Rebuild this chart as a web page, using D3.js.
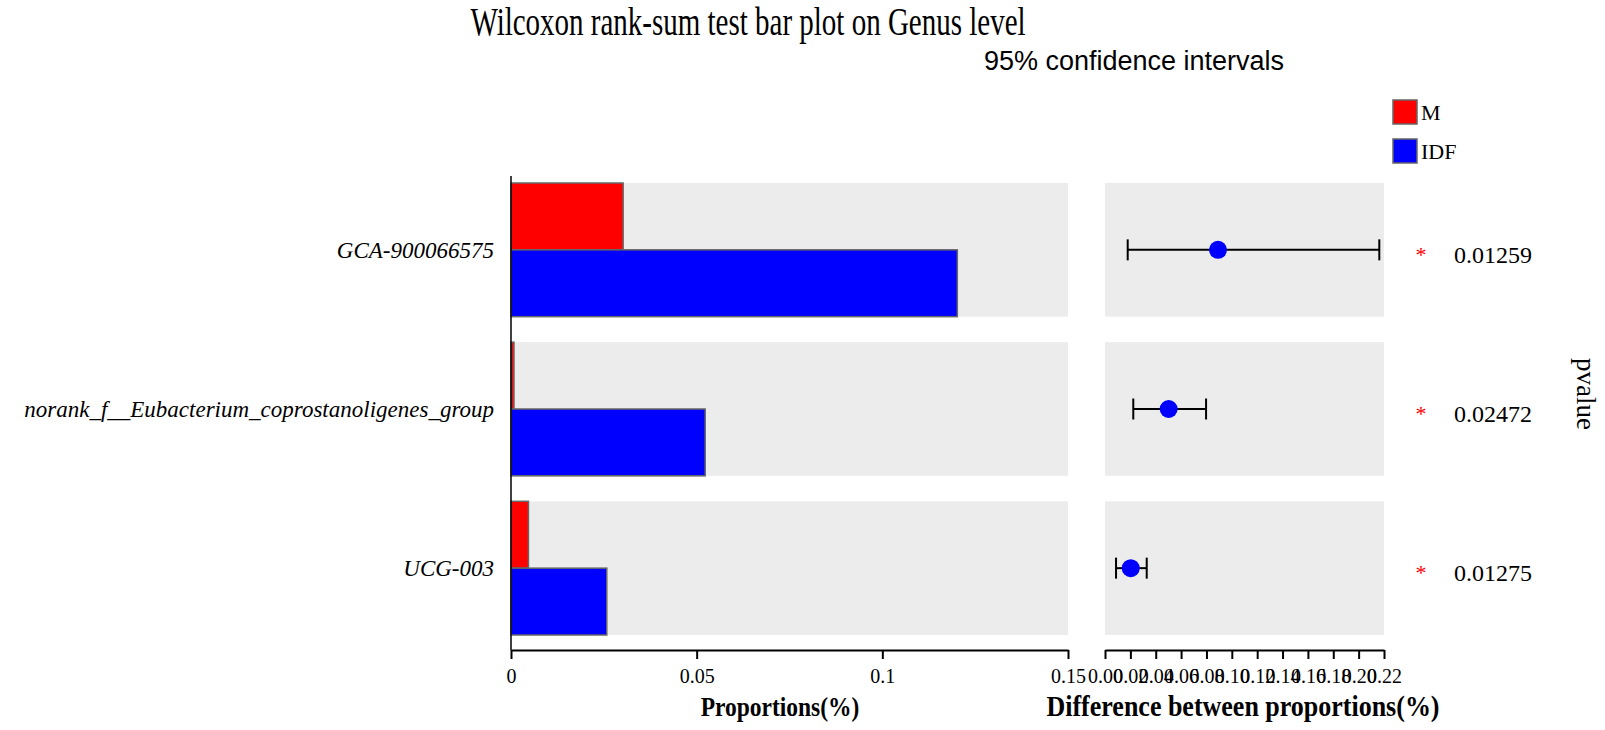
<!DOCTYPE html>
<html>
<head>
<meta charset="utf-8">
<script src="https://cdn.jsdelivr.net/npm/d3@7"></script>
<style>
  body { margin: 0; background: #fff; }
  svg { display: block; }
</style>
</head>
<body>
<div id="chart"></div>
<script>
// data
const genera = ['GCA-900066575', 'norank_f__Eubacterium_coprostanoligenes_group', 'UCG-003'];
const groups = ['M', 'IDF'];
const groupColors = ['#ff0000', '#0000ff'];
const propM = [0.0302, 0.0008, 0.0047];
const propIDF = [0.1202, 0.0523, 0.0258];
const diffMean = [0.0891, 0.0502, 0.0203];
const diffLow = [0.0179, 0.0223, 0.0087];
const diffHigh = [0.2163, 0.0797, 0.0329];
const pvalues = ['0.01259', '0.02472', '0.01275'];
const leftTicks = [0, 0.05, 0.1, 0.15];
const rightTicks = [0, 0.02, 0.04, 0.06, 0.08, 0.1, 0.12, 0.14, 0.16, 0.18, 0.2, 0.22];

const width = 1605, height = 730;
const serif = '"Liberation Serif", "Times New Roman", serif';
const sans = '"Liberation Sans", Arial, sans-serif';

const svg = d3.select('#chart')
  .append('svg')
  .attr('width', width)
  .attr('height', height);

// scales
const xLeft = d3.scaleLinear().domain([0, 0.15]).range([511, 1068]);
const xRight = d3.scaleLinear().domain([0, 0.22]).range([1105, 1384]);
const y = d3.scaleBand().domain(genera).range([183, 635]).paddingInner(0.16).paddingOuter(0);
const ySub = d3.scaleBand().domain(groups).range([0, y.bandwidth()]);

// background bands
svg.append('g').selectAll('rect')
  .data(genera)
  .enter()
  .append('rect')
  .attr('x', xLeft(0))
  .attr('y', d => y(d))
  .attr('width', xLeft(0.15) - xLeft(0))
  .attr('height', y.bandwidth())
  .style('fill', '#ececec');

svg.append('g').selectAll('rect')
  .data(genera)
  .enter()
  .append('rect')
  .attr('x', xRight(0))
  .attr('y', d => y(d))
  .attr('width', xRight(0.22) - xRight(0))
  .attr('height', y.bandwidth())
  .style('fill', '#ececec');

// bars
const barData = [];
genera.forEach((g, i) => {
  barData.push({genus: g, group: 'M', value: propM[i]});
  barData.push({genus: g, group: 'IDF', value: propIDF[i]});
});

svg.append('g').selectAll('rect')
  .data(barData)
  .enter()
  .append('rect')
  .attr('x', xLeft(0))
  .attr('y', d => y(d.genus) + ySub(d.group))
  .attr('width', d => xLeft(d.value) - xLeft(0))
  .attr('height', ySub.bandwidth())
  .style('fill', d => groupColors[groups.indexOf(d.group)])
  .style('stroke', '#666')
  .style('stroke-width', 1.5);

// left axis line
svg.append('line')
  .attr('x1', xLeft(0)).attr('x2', xLeft(0))
  .attr('y1', 176).attr('y2', 650)
  .style('stroke', '#000')
  .style('stroke-width', 1.5);

// bottom axes
const axisLeft = svg.append('g')
  .attr('transform', 'translate(0,650)')
  .call(d3.axisBottom(xLeft).tickValues(leftTicks).tickFormat(d3.format('')).tickSize(9).tickSizeOuter(0));

const axisRight = svg.append('g')
  .attr('transform', 'translate(0,650)')
  .call(d3.axisBottom(xRight).tickValues(rightTicks).tickFormat(d3.format('.2f')).tickSize(9).tickSizeOuter(0));

[axisLeft, axisRight].forEach(ax => {
  ax.select('.domain').style('stroke', '#000').style('stroke-width', 2);
  ax.selectAll('.tick line').style('stroke', '#000').style('stroke-width', 2);
  ax.selectAll('.tick text')
    .attr('y', 19)
    .style('font-family', serif)
    .style('font-size', '20px')
    .style('fill', '#000');
});

// category labels
svg.append('g').selectAll('text')
  .data(genera)
  .enter()
  .append('text')
  .attr('x', 494)
  .attr('y', d => y(d) + y.bandwidth() / 2)
  .attr('dy', '0.35em')
  .attr('text-anchor', 'end')
  .style('font-family', serif)
  .style('font-style', 'italic')
  .style('font-size', '23px')
  .text(d => d);

// error bars
const errData = genera.map((g, i) => ({genus: g, mean: diffMean[i], low: diffLow[i], high: diffHigh[i]}));
const err = svg.append('g').selectAll('g')
  .data(errData)
  .enter()
  .append('g')
  .attr('transform', d => 'translate(0,' + (y(d.genus) + y.bandwidth() / 2) + ')');

err.append('line')
  .attr('x1', d => xRight(d.low))
  .attr('x2', d => xRight(d.high))
  .style('stroke', '#000')
  .style('stroke-width', 2);

err.append('line')
  .attr('x1', d => xRight(d.low)).attr('x2', d => xRight(d.low))
  .attr('y1', -10.5).attr('y2', 10.5)
  .style('stroke', '#000')
  .style('stroke-width', 2);

err.append('line')
  .attr('x1', d => xRight(d.high)).attr('x2', d => xRight(d.high))
  .attr('y1', -10.5).attr('y2', 10.5)
  .style('stroke', '#000')
  .style('stroke-width', 2);

err.append('circle')
  .attr('cx', d => xRight(d.mean))
  .attr('r', 9)
  .style('fill', '#0000ff');

// significance stars and p-values
svg.append('g').selectAll('text')
  .data(genera)
  .enter()
  .append('text')
  .attr('x', 1421)
  .attr('y', d => y(d) + y.bandwidth() / 2 + 12)
  .attr('text-anchor', 'middle')
  .style('font-family', serif)
  .style('font-size', '22px')
  .style('fill', '#ff0000')
  .text('*');

svg.append('g').selectAll('text')
  .data(pvalues)
  .enter()
  .append('text')
  .attr('x', 1454)
  .attr('y', (d, i) => y(genera[i]) + y.bandwidth() / 2 + 13)
  .style('font-family', serif)
  .style('font-size', '24px')
  .text(d => d);

svg.append('text')
  .attr('transform', 'translate(1577,394) rotate(90)')
  .attr('text-anchor', 'middle')
  .style('font-family', serif)
  .style('font-size', '27px')
  .text('pvalue');

// legend
const legend = svg.append('g').selectAll('g')
  .data(groups)
  .enter()
  .append('g')
  .attr('transform', (d, i) => 'translate(1393,' + (100 + i * 39) + ')');

legend.append('rect')
  .attr('width', 24)
  .attr('height', 24)
  .style('fill', (d, i) => groupColors[i])
  .style('stroke', '#666')
  .style('stroke-width', 1.5);

legend.append('text')
  .attr('x', 28)
  .attr('y', 20)
  .style('font-family', serif)
  .style('font-size', '22px')
  .text(d => d);

// titles (the reference type is tall and narrow, so stretch it vertically)
svg.append('text')
  .attr('transform', 'translate(748,35) scale(1,1.4)')
  .attr('text-anchor', 'middle')
  .style('font-family', serif)
  .style('font-size', '29px')
  .text('Wilcoxon rank-sum test bar plot on Genus level');

svg.append('text')
  .attr('x', 1134)
  .attr('y', 70)
  .attr('text-anchor', 'middle')
  .style('font-family', sans)
  .style('font-size', '27px')
  .text('95% confidence intervals');

svg.append('text')
  .attr('transform', 'translate(780,716) scale(1,1.2)')
  .attr('text-anchor', 'middle')
  .style('font-family', serif)
  .style('font-weight', 'bold')
  .style('font-size', '23.5px')
  .text('Proportions(%)');

svg.append('text')
  .attr('transform', 'translate(1243,716) scale(1,1.15)')
  .attr('text-anchor', 'middle')
  .style('font-family', serif)
  .style('font-weight', 'bold')
  .style('font-size', '26px')
  .text('Difference between proportions(%)');
</script>
</body>
</html>
